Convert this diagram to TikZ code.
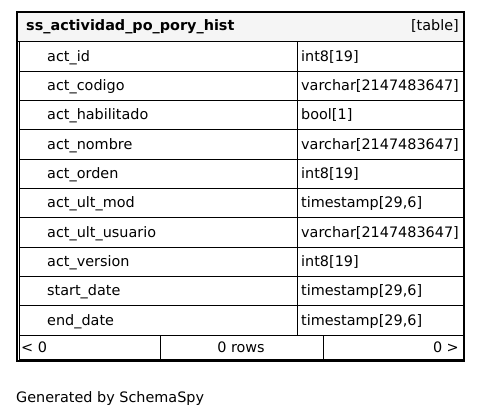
\documentclass[tikz,border=0pt]{standalone}
\usepackage{fontspec}
\setmainfont{DejaVu Sans}
\begin{document}
\begin{tikzpicture}[x=1pt,y=-1pt,
  cell/.style={draw=black,line width=1pt},
  txt/.style={inner sep=0pt,font=\fontsize{14.4}{16}\selectfont,anchor=base west},
  hdr/.style={inner sep=0pt,font=\fontsize{14.4}{16}\selectfont\bfseries,anchor=base west}]
\useasboundingbox (0,0) rectangle (481,417);
% header
\fill[black!4] (18,13) rectangle (463,42);
\node[hdr] (title) at (26,31) {ss\_actividad\_po\_pory\_hist};
\node[txt,anchor=base east] (tag) at (459,31) {[table]};
\draw[cell] (18,42) -- (463,42);
% rows
\def\rowh{29.3}
\foreach \n/\t [count=\i from 0] in {act\_id/int8[19],act\_codigo/varchar[2147483647],act\_habilitado/bool[1],act\_nombre/varchar[2147483647],act\_orden/int8[19],act\_ult\_mod/timestamp[29{,}6],act\_ult\_usuario/varchar[2147483647],act\_version/int8[19],start\_date/timestamp[29{,}6],end\_date/timestamp[29{,}6]}{
  \pgfmathsetmacro\ya{42+\i*\rowh}
  \pgfmathsetmacro\yb{42+(\i+1)*\rowh}
  \draw[cell] (19,\ya) rectangle (297,\yb);
  \draw[cell] (297,\ya) rectangle (463,\yb);
  \node[txt] (n\i) at (47,\yb-10) {\n};
  \node[txt] (t\i) at (301,\yb-10) {\t};
}
% footer
\draw[cell] (19,335) rectangle (160,359);
\draw[cell] (160,335) rectangle (323,359);
\draw[cell] (323,335) rectangle (463,359);
\node[txt] (f1) at (21,352) {< 0};
\node[txt,anchor=base] (f2) at (241,352) {0 rows};
\node[txt,anchor=base east] (f3) at (459,352) {0 >};
% outer frame
\draw[line width=2.2pt] (17.1,12.1) rectangle (463.9,360.9);
\node[txt] (gen) at (16,402) {Generated by SchemaSpy};
\end{tikzpicture}
\end{document}
